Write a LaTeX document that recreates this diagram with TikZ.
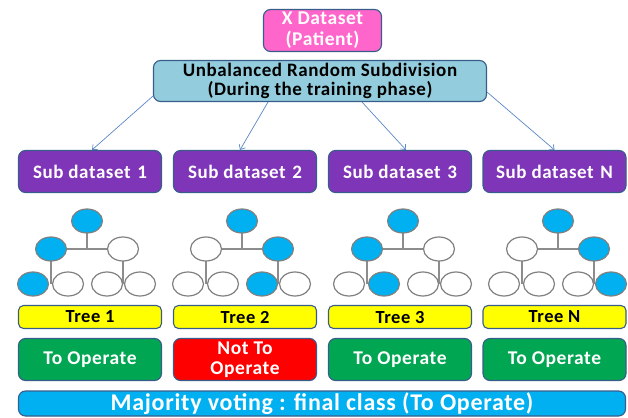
\documentclass[tikz,border=0pt]{standalone}
\usepackage{fontspec}
\setmainfont{Carlito}[LetterSpace=3]
\usetikzlibrary{shapes.geometric,arrows.meta,backgrounds}

\definecolor{edge}{HTML}{385D8A}
\definecolor{pinkfill}{HTML}{FF66CC}
\definecolor{ubfill}{HTML}{93CDDD}
\definecolor{subfill}{HTML}{7F35B8}
\definecolor{treefill}{HTML}{FFFF00}
\definecolor{gofill}{HTML}{00A651}
\definecolor{stopfill}{HTML}{FF0000}
\definecolor{barfill}{HTML}{00B0F0}
\definecolor{nodeblue}{HTML}{00B0F0}
\definecolor{nodeedge}{HTML}{808080}
\definecolor{linkgray}{HTML}{8C8C8C}
\definecolor{arrowblue}{HTML}{5B87C5}

\begin{document}
\begin{tikzpicture}[x=1pt,y=-1pt,
  box/.style={draw=edge, line width=1.1pt, rounded corners=7pt, inner sep=0pt,
    align=center, font=\bfseries\fontsize{19.5}{21}\selectfont},
  subbox/.style={box, fill=subfill, text=white, minimum width=143pt, minimum height=42pt,
    font=\bfseries\fontsize{19}{21}\selectfont},
  treebox/.style={box, fill=treefill, text=black, rounded corners=5pt,
    minimum width=143pt, minimum height=23pt, font=\bfseries\fontsize{18.5}{20}\selectfont},
  votebox/.style={box, text=white, minimum width=143pt, minimum height=42pt,
    font=\bfseries\fontsize{19.5}{20.5}\selectfont},
  leaf/.style={ellipse, draw=nodeedge, line width=1.2pt, inner sep=0pt,
    minimum width=31pt, minimum height=24pt},
  link/.style={draw=linkgray, line width=1.6pt},
  feed/.style={draw=arrowblue, line width=0.7pt, -{Straight Barb[length=4pt,width=7pt]}}
]
\useasboundingbox (0,0) rectangle (628,417);

% source and splitting step
\node[box, fill=pinkfill, text=white, minimum width=118pt, minimum height=42pt] (xd)
  at (322.5,30.5) {X Dataset\\(Patient)};
\node[box, fill=ubfill, text=black, minimum width=333pt, minimum height=41pt,
  font=\bfseries\fontsize{19}{19}\selectfont] (ub)
  at (320,81) {Unbalanced Random Subdivision\\(During the training phase)};

% sub datasets and tree labels
\foreach \i/\x/\lab in {1/90/1, 2/245/2, 3/400/3, 4/554.5/N} {
  \node[subbox] (s\i) at (\x,171.5) {Sub dataset\hspace{0.35em}\lab};
  \node[treebox] (t\i) at (\x,317) {Tree \lab};
}

% votes of the trees
\node[votebox, fill=gofill]   (o1) at (90,359.5)    {To Operate};
\node[votebox, fill=stopfill] (o2) at (245,359.5)   {Not To\\Operate};
\node[votebox, fill=gofill]   (o3) at (400,359.5)   {To Operate};
\node[votebox, fill=gofill]   (o4) at (554.5,359.5) {To Operate};

% final decision
\node[box, fill=barfill, text=white, minimum width=607pt, minimum height=25pt,
  font=\bfseries\fontsize{24}{25}\selectfont] (mv)
  at (322,403.5) {Majority voting : final class (To Operate)};

% arrows from the subdivision to each sub dataset
\draw[feed] ([yshift=6pt]ub.south west) -- ([xshift=2pt]s1.north);
\draw[feed] ([xshift=-52pt]ub.south) -- ([xshift=-5pt]s2.north);
\draw[feed] ([xshift=42pt]ub.south) -- ([xshift=6pt]s3.north);
\draw[feed] ([yshift=10pt]ub.south east) -- (s4.north);

% decision trees
\foreach \i/\cx/\fa/\fb/\fc/\fd/\fe/\ff/\fg in {
  1/87/nodeblue/nodeblue/white/nodeblue/white/white/white,
  2/242/nodeblue/white/nodeblue/white/white/nodeblue/white,
  3/403/nodeblue/nodeblue/white/white/nodeblue/white/white,
  4/558/nodeblue/white/nodeblue/white/white/white/nodeblue} {
  \node[leaf, fill=\fa] (tr\i-top) at (\cx,221) {};
  \node[leaf, fill=\fb] (tr\i-ml) at (\cx-36,249) {};
  \node[leaf, fill=\fc] (tr\i-mr) at (\cx+36,249) {};
  \node[leaf, fill=\fd] (tr\i-b1) at (\cx-54,284) {};
  \node[leaf, fill=\fe] (tr\i-b2) at (\cx-19,284) {};
  \node[leaf, fill=\ff] (tr\i-b3) at (\cx+20,284) {};
  \node[leaf, fill=\fg] (tr\i-b4) at (\cx+53,284) {};
  \begin{scope}[on background layer]
    \draw[link] (tr\i-top.center) -- (tr\i-top.center |- tr\i-ml.center);
    \draw[link] (tr\i-ml.center) -- (tr\i-mr.center);
    \draw[link] (tr\i-ml.center) -- (tr\i-ml.center |- tr\i-b1.center);
    \draw[link] (tr\i-mr.center) -- (tr\i-mr.center |- tr\i-b4.center);
  \end{scope}
}
\end{tikzpicture}
\end{document}
